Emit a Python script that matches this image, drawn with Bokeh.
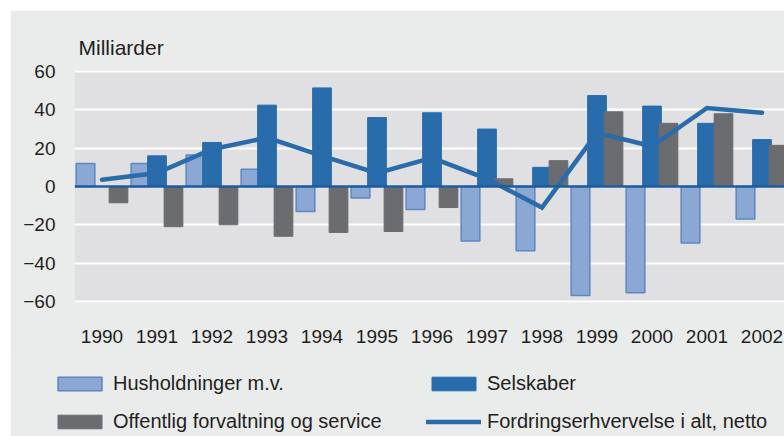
import math
from bokeh.plotting import figure
from bokeh.models import (ColumnDataSource, Range1d, FixedTicker, Span, Legend, LegendItem, Spacer)
from bokeh.layouts import column, row
from bokeh.transform import dodge
from bokeh.embed import file_html
from bokeh.resources import INLINE

years = [1990, 1991, 1992, 1993, 1994, 1995, 1996, 1997, 1998, 1999, 2000, 2001, 2002]
husholdninger = [12, 12, 16.5, 9, -13, -6, -12, -28.5, -33.5, -57, -55.5, -29.5, -17]
selskaber = [math.nan, 16, 23, 42.5, 51.5, 36, 38.5, 30, 10, 47.5, 42, 33, 24.5]
offentlig = [-8.5, -21, -20, -26, -24, -23.5, -11, 4, 13.5, 39, 33, 38, 21.5]
fordring = [3.5, 7, 19.5, 25.5, 16, 7, 15, 4, -11, 28, 21, 41, 38.5]
y_ticks = [-60, -40, -20, 0, 20, 40, 60]

labels = ["Husholdninger m.v.", "Selskaber", "Offentlig forvaltning og service",
          "Fordringserhvervelse i alt, netto"]

FONT = "Liberation Sans"
TXT = "#231f20"
PANEL = "#eaebeb"
C_HUSH_FILL, C_HUSH_LINE = "#8aa8d3", "#5b87c2"
C_SEL = "#286cab"
C_OFF = "#6b6c70"
C_TOT = "#2a6cab"

src = ColumnDataSource(dict(year=years, hush=husholdninger, sel=selskaber,
                            off=offentlig, tot=fordring))

FW = 774
p = figure(width=FW, height=346, output_backend="svg", toolbar_location=None,
           x_range=Range1d(1989.5, 1989.5 + 710 / 55), y_range=Range1d(-60.6, 60.6),
           min_border_left=64, min_border_right=0, min_border_top=60, min_border_bottom=54)

p.border_fill_color = PANEL
p.background_fill_color = "#e0e0e2"
p.outline_line_color = None

p.title.text = "Milliarder"
p.title.text_font = FONT
p.title.text_font_size = "21px"
p.title.text_font_style = "normal"
p.title.text_color = TXT
p.title.align = "left"
p.title.offset = 4
p.title.standoff = 24

w = 0.34
r1 = p.vbar(x=dodge("year", -0.3, range=p.x_range), top="hush", bottom=0, width=w, source=src,
            fill_color=C_HUSH_FILL, line_color=C_HUSH_LINE, line_width=1.5)
r2 = p.vbar(x=dodge("year", 0.0, range=p.x_range), top="sel", bottom=0, width=w, source=src,
            fill_color=C_SEL, line_color=C_SEL, line_width=1)
r3 = p.vbar(x=dodge("year", 0.3, range=p.x_range), top="off", bottom=0, width=w, source=src,
            fill_color=C_OFF, line_color=C_OFF, line_width=1)

zero = Span(location=0, dimension="width", line_color="#1c5b9c", line_width=2.5, level="glyph")
p.add_layout(zero)

r4 = p.line("year", "tot", source=src, line_color=C_TOT, line_width=4.5,
            line_cap="round", line_join="miter")

p.yaxis.ticker = FixedTicker(ticks=y_ticks)
p.xaxis.ticker = FixedTicker(ticks=years)
for ax in (p.xaxis, p.yaxis):
    ax.axis_line_color = None
    ax.major_tick_line_color = None
    ax.minor_tick_line_color = None
    ax.major_tick_out = 0
    ax.major_tick_in = 0
    ax.minor_tick_out = 0
    ax.minor_tick_in = 0
    ax.major_label_text_font = FONT
    ax.major_label_text_font_size = "19px"
    ax.major_label_text_color = TXT
p.yaxis.major_label_standoff = 19
p.xaxis.major_label_standoff = 27

p.xgrid.grid_line_color = None
p.ygrid.ticker = FixedTicker(ticks=y_ticks)
p.ygrid.grid_line_color = "white"
p.ygrid.grid_line_width = 2

# legend strip (separate figure so the legend can start left of the plot frame)
lg = figure(width=FW, height=81, output_backend="svg", toolbar_location=None,
            x_range=Range1d(0, 1), y_range=Range1d(0, 1),
            x_axis_location=None, y_axis_location=None,
            min_border=0, min_border_left=0, min_border_right=0, min_border_top=0,
            min_border_bottom=0)
lg.grid.visible = False
lg.outline_line_color = None
lg.border_fill_color = PANEL
lg.background_fill_color = PANEL
# legend-only proxies (zero-size, nothing visible)
d1 = lg.vbar(x=[0], top=[0], bottom=[0], width=0, fill_color=C_HUSH_FILL,
             line_color=C_HUSH_LINE, line_width=1.5)
d2 = lg.vbar(x=[0], top=[0], bottom=[0], width=0, fill_color=C_SEL, line_color=C_SEL)
d3 = lg.vbar(x=[0], top=[0], bottom=[0], width=0, fill_color=C_OFF, line_color=C_OFF)
d4 = lg.line(x=[0], y=[0], line_color=C_TOT, line_width=4.5, line_cap="round")

legend = Legend(items=[LegendItem(label=labels[0], renderers=[d1]),
                       LegendItem(label=labels[1], renderers=[d2]),
                       LegendItem(label=labels[2], renderers=[d3]),
                       LegendItem(label=labels[3], renderers=[d4])],
                orientation="horizontal", ncols=2,
                location=(42, 3), padding=0, margin=0, spacing=15,
                glyph_width=55, glyph_height=17, label_standoff=6, label_width=298,
                label_text_font=FONT, label_text_font_size="20px", label_text_color=TXT,
                border_line_color=None, background_fill_alpha=0)
lg.add_layout(legend, "center")

row2 = row(Spacer(width=10, height=81), lg)
row2.margin = (-1, 0, 0, 0)
layout = column(Spacer(height=10, width=784),
                row(Spacer(width=10, height=346), p),
                row2)

open("out.html", "w").write(file_html(layout, INLINE))
